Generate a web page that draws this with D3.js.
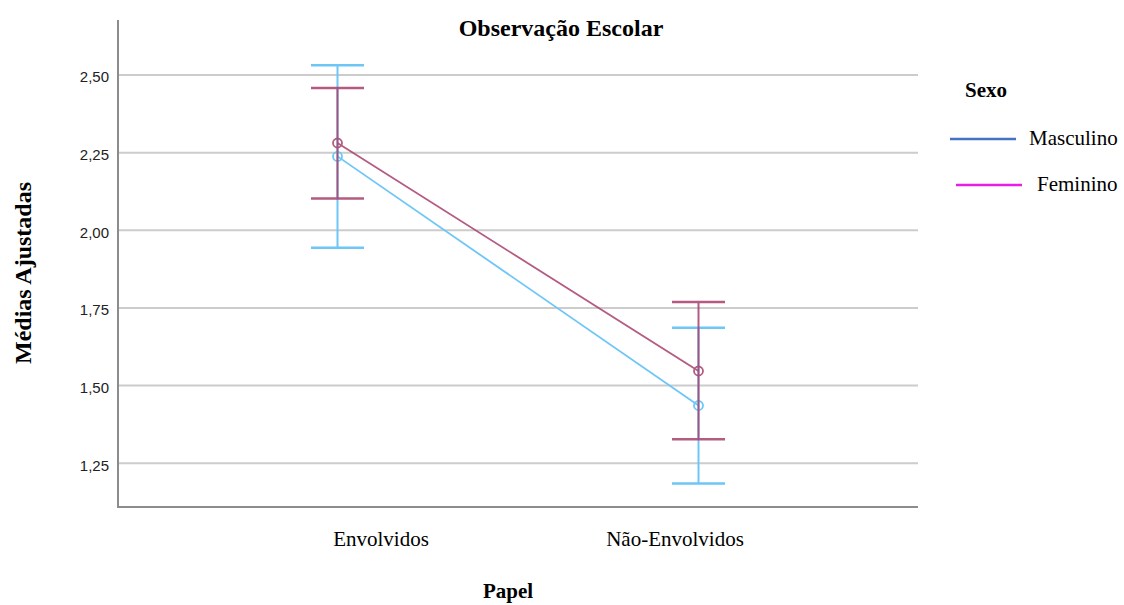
<!DOCTYPE html>
<html>
<head>
<meta charset="utf-8">
<script src="https://cdn.jsdelivr.net/npm/d3@7"></script>
<style>
  body { margin: 0; background: #fff; }
  svg { display: block; }
</style>
</head>
<body>
<svg width="1124" height="605"></svg>
<script>
"use strict";

// categorias do eixo x
const papel = ["Envolvidos", "Não-Envolvidos"];
const yTicks = [1.25, 1.5, 1.75, 2.0, 2.25, 2.5];

// médias ajustadas e intervalos
const masculinoMedia = [2.238, 1.436];
const masculinoInf = [1.944, 1.185];
const masculinoSup = [2.531, 1.686];
const femininoMedia = [2.281, 1.547];
const femininoInf = [2.102, 1.327];
const femininoSup = [2.458, 1.769];

const series = [
  { nome: "Masculino", media: masculinoMedia, inf: masculinoInf, sup: masculinoSup, cor: "#6ec6f7", legenda: "#4472c4", op: 1 },
  { nome: "Feminino", media: femininoMedia, inf: femininoInf, sup: femininoSup, cor: "#a83f6c", legenda: "#e61ee6", op: 0.85 }
];

const svg = d3.select("svg");
const mLeft = 118, mRight = 918, mTop = 20, mBottom = 507;
const serif = "Liberation Serif, Times New Roman, serif";

const xScale = d3.scalePoint().domain(papel).range([mLeft, mRight]).padding(0.608);
const yScale = d3.scaleLinear().domain([2.5 - (507 - 75) / 310.6, 2.5 + 55 / 310.6]).range([mBottom, mTop]);

// grid
svg.append("g")
  .selectAll("line")
  .data(yTicks)
  .join("line")
  .attr("x1", mLeft).attr("x2", mRight)
  .attr("y1", d => yScale(d)).attr("y2", d => yScale(d))
  .attr("stroke", "#cccccc").attr("stroke-width", 2);

// eixo y
const yAxis = d3.axisLeft(yScale).tickValues(yTicks).tickSize(0).tickPadding(9)
  .tickFormat(d => d3.format(".2f")(d).replace(".", ","));
const yG = svg.append("g").attr("transform", `translate(${mLeft},0)`).call(yAxis);
yG.select(".domain").remove();
yG.selectAll("text").attr("font-family", "Liberation Sans, Arial, sans-serif").attr("font-size", 15).attr("fill", "#222").attr("dy", "0.45em");

// eixo x (os rótulos do original ficam deslocados em relação às barras)
const labelShift = [43, -24];
const xAxis = d3.axisBottom(xScale).tickSize(0).tickPadding(0);
const xG = svg.append("g").attr("transform", `translate(0,${mBottom})`).call(xAxis);
xG.select(".domain").remove();
xG.selectAll("text")
  .attr("font-family", serif).attr("font-size", 21).attr("fill", "#000")
  .attr("dy", null).attr("y", 39)
  .attr("dx", (d, i) => labelShift[i]);

// linhas dos eixos
svg.append("line").attr("x1", mLeft).attr("x2", mLeft).attr("y1", mTop).attr("y2", mBottom)
  .attr("stroke", "#8c8c8c").attr("stroke-width", 2);
svg.append("line").attr("x1", mLeft - 1).attr("x2", mRight).attr("y1", mBottom).attr("y2", mBottom)
  .attr("stroke", "#8c8c8c").attr("stroke-width", 2);

const capW = 26.5;
series.forEach(s => {
  const g = svg.append("g").attr("opacity", s.op);
  // barras de erro
  papel.forEach((p, i) => {
    const x = xScale(p);
    g.append("line").attr("x1", x).attr("x2", x)
      .attr("y1", yScale(s.inf[i])).attr("y2", yScale(s.sup[i]))
      .attr("stroke", s.cor).attr("stroke-width", 2);
    [s.inf[i], s.sup[i]].forEach(v => {
      g.append("line").attr("x1", x - capW).attr("x2", x + capW)
        .attr("y1", yScale(v)).attr("y2", yScale(v))
        .attr("stroke", s.cor).attr("stroke-width", 2.5);
    });
  });
  // linha das médias
  g.append("path")
    .datum(s.media)
    .attr("d", d3.line().x((d, i) => xScale(papel[i])).y(d => yScale(d)))
    .attr("fill", "none").attr("stroke", s.cor).attr("stroke-width", 1.8);
  g.selectAll("circle")
    .data(s.media)
    .join("circle")
    .attr("cx", (d, i) => xScale(papel[i]))
    .attr("cy", d => yScale(d))
    .attr("r", 4.5)
    .attr("fill", "none").attr("stroke", s.cor).attr("stroke-width", 1.8);
});

// título
svg.append("text").attr("x", 561).attr("y", 36).attr("text-anchor", "middle")
  .attr("font-family", serif).attr("font-weight", "bold").attr("font-size", 24)
  .text("Observação Escolar");

// rótulos dos eixos
svg.append("text").attr("x", 508).attr("y", 598).attr("text-anchor", "middle")
  .attr("font-family", serif).attr("font-weight", "bold").attr("font-size", 21)
  .text("Papel");
svg.append("text").attr("transform", "translate(31,273) rotate(-90)").attr("text-anchor", "middle")
  .attr("font-family", serif).attr("font-weight", "bold").attr("font-size", 24)
  .text("Médias Ajustadas");

// legenda
svg.append("text").attr("x", 965).attr("y", 97)
  .attr("font-family", serif).attr("font-weight", "bold").attr("font-size", 21)
  .text("Sexo");
series.forEach((s, i) => {
  const y = 139 + i * 46;
  const x0 = 950 + i * 6;
  svg.append("line").attr("x1", x0).attr("x2", x0 + 66).attr("y1", y).attr("y2", y)
    .attr("stroke", s.legenda).attr("stroke-width", 2.5);
  svg.append("text").attr("x", x0 + 79 + i * 2).attr("y", y + 6)
    .attr("font-family", serif).attr("font-size", 21)
    .text(s.nome);
});
</script>
</body>
</html>
